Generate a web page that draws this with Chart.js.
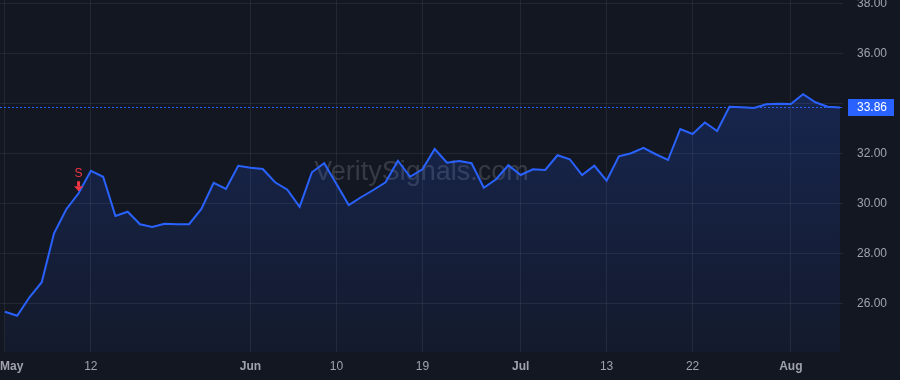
<!DOCTYPE html>
<html>
<head>
<meta charset="utf-8">
<style>
  html, body { margin: 0; padding: 0; background: #131722; }
  #wrap { width: 900px; height: 380px; }
</style>
<script src="https://cdn.jsdelivr.net/npm/chart.js@4.4.0/dist/chart.umd.min.js"></script>
</head>
<body>
<div id="wrap"><canvas id="priceChart" width="900" height="380"></canvas></div>
<script>
// daily closes, one per trading session
const prices = [
  25.69, 25.53, 26.27, 26.87, 28.83, 29.79, 30.43, 31.33, 31.09, 29.52,
  29.69, 29.19, 29.08, 29.21, 29.19, 29.19, 29.80, 30.85, 30.60, 31.53,
  31.45, 31.40, 30.87, 30.57, 29.89, 31.27, 31.63, 30.80, 29.96, 30.27,
  30.56, 30.87, 31.73, 31.09, 31.39, 32.20, 31.65, 31.72, 31.63, 30.65,
  30.99, 31.55, 31.16, 31.39, 31.36, 31.95, 31.79, 31.16, 31.53, 30.93,
  31.91, 32.03, 32.25, 31.99, 31.76, 33.00, 32.80, 33.26, 32.92, 33.89,
  33.87, 33.84, 33.99, 34.01, 34.00, 34.39, 34.07, 33.89, 33.86
];

// x axis labels (session index -> text)
const tickIdx = [0, 7, 20, 27, 34, 42, 49, 56, 64];
const tickText = ['May', '12', 'Jun', '10', '19', 'Jul', '13', '22', 'Aug'];
const monthLabels = ['May', 'Jun', 'Jul', 'Aug'];

// y axis labels
const yTicks = [26, 28, 30, 32, 34, 36, 38];

// sell signal
const signalIdx = 6;
const signalText = 'S';

const lastPrice = prices[prices.length - 1];
const FONT = '"Liberation Sans", Arial, sans-serif';
const points = prices.map((p, i) => ({ x: i, y: p }));

const overlay = {
  id: 'overlay',
  beforeDatasetsDraw(chart) {
    const { ctx, chartArea: a, scales: { y } } = chart;
    ctx.save();
    // watermark
    ctx.font = '27px ' + FONT;
    ctx.fillStyle = 'rgba(255,255,255,0.15)';
    ctx.textAlign = 'center';
    ctx.textBaseline = 'middle';
    ctx.fillText('VeritySignals.com', a.left + a.width / 2, a.top + a.height * 0.49);
    // last price dotted line
    const py = Math.round(y.getPixelForValue(lastPrice)) + 0.5;
    ctx.strokeStyle = '#2962FF';
    ctx.lineWidth = 1;
    ctx.setLineDash([2, 2]);
    ctx.beginPath();
    ctx.moveTo(a.left, py);
    ctx.lineTo(a.right, py);
    ctx.stroke();
    ctx.restore();
  },
  afterDatasetsDraw(chart) {
    const { ctx, scales: { x, y } } = chart;
    const sx = x.getPixelForValue(signalIdx);
    const sy = y.getPixelForValue(prices[signalIdx]);
    ctx.save();
    ctx.fillStyle = '#f23645';
    ctx.font = '12px ' + FONT;
    ctx.textAlign = 'center';
    ctx.textBaseline = 'middle';
    ctx.fillText(signalText, sx, sy - 20);
    ctx.fillRect(sx - 1.5, sy - 12, 3, 5);
    ctx.beginPath();
    ctx.moveTo(sx - 4.5, sy - 7);
    ctx.lineTo(sx + 4.5, sy - 7);
    ctx.lineTo(sx, sy - 2);
    ctx.closePath();
    ctx.fill();
    ctx.restore();
  },
  afterDraw(chart) {
    const { ctx, chartArea: a, scales: { x, y } } = chart;
    ctx.save();
    // x axis labels, first one kept inside the canvas
    ctx.fillStyle = '#a0a3ad';
    ctx.textBaseline = 'middle';
    ctx.textAlign = 'left';
    tickIdx.forEach((idx, i) => {
      const txt = tickText[i];
      ctx.font = (monthLabels.includes(txt) ? 'bold ' : '') + '12px ' + FONT;
      const w = ctx.measureText(txt).width;
      const left = Math.max(0, x.getPixelForValue(idx) - w / 2);
      ctx.fillText(txt, left, a.bottom + 15);
    });
    // last price tag
    const py = Math.round(y.getPixelForValue(lastPrice));
    ctx.fillStyle = '#2962FF';
    ctx.fillRect(a.right + 5, py - 8, 46, 17);
    ctx.fillStyle = '#ffffff';
    ctx.font = '12px ' + FONT;
    ctx.textAlign = 'left';
    ctx.fillText(lastPrice.toFixed(2), a.right + 14, py + 1);
    ctx.restore();
  }
};

const ctx = document.getElementById('priceChart').getContext('2d');
const priceChart = new Chart(ctx, {
  type: 'line',
  data: {
    datasets: [{
      data: points,
      borderColor: '#2962FF',
      borderWidth: 2,
      pointRadius: 0,
      tension: 0,
      fill: 'start',
      backgroundColor: (c) => {
        const area = c.chart.chartArea;
        if (!area) return 'rgba(41,98,255,0.15)';
        const g = c.chart.ctx.createLinearGradient(0, area.top, 0, area.bottom);
        g.addColorStop(0, 'rgba(41,98,255,0.26)');
        g.addColorStop(1, 'rgba(41,98,255,0.05)');
        return g;
      }
    }]
  },
  options: {
    responsive: false,
    animation: false,
    devicePixelRatio: 1,
    layout: { padding: 0 },
    plugins: { legend: { display: false }, tooltip: { enabled: false } },
    scales: {
      x: {
        type: 'linear',
        min: -0.4,
        max: 68.25,
        grid: { color: 'rgba(255,255,255,0.07)', drawTicks: false },
        border: { display: false },
        ticks: { display: false },
        afterBuildTicks: (s) => { s.ticks = tickIdx.map(v => ({ value: v })); },
        afterFit: (s) => { s.height = 28; s.paddingLeft = 0; s.paddingRight = 0; }
      },
      y: {
        position: 'right',
        min: 24.08,
        max: 38.16,
        grid: { color: 'rgba(255,255,255,0.07)', drawTicks: false },
        border: { display: false },
        ticks: {
          color: '#a0a3ad',
          padding: 14,
          font: { size: 12, family: FONT },
          // 34.00 sits under the price tag
          callback: (v) => (v === 34 ? '' : v.toFixed(2))
        },
        afterBuildTicks: (s) => { s.ticks = yTicks.map(v => ({ value: v })); },
        afterFit: (s) => { s.width = 57; s.paddingTop = 0; s.paddingBottom = 0; }
      }
    }
  },
  plugins: [overlay]
});
</script>
</body>
</html>
